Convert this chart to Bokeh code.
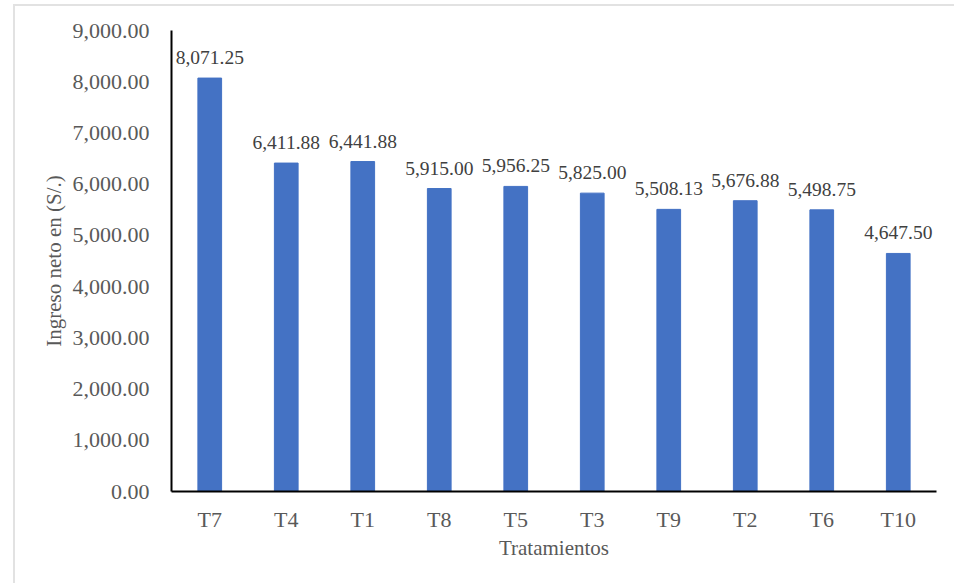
from bokeh.plotting import figure
from bokeh.models import ColumnDataSource, FactorRange, Range1d, NumeralTickFormatter, FixedTicker, LabelSet
from bokeh.embed import file_html
from bokeh.resources import INLINE

# Ingreso neto por tratamiento (S/.)
tratamientos = ["T7", "T4", "T1", "T8", "T5", "T3", "T9", "T2", "T6", "T10"]
ingreso_neto = [8071.25, 6411.88, 6441.88, 5915.00, 5956.25, 5825.00, 5508.13, 5676.88, 5498.75, 4647.50]
y_ticks = [0, 1000, 2000, 3000, 4000, 5000, 6000, 7000, 8000, 9000]

etiquetas = [f"{v:,.2f}" for v in ingreso_neto]
source = ColumnDataSource(dict(t=tratamientos, v=ingreso_neto, lab=etiquetas))

FONT = "'Liberation Serif', 'Times New Roman', serif"
GRAY = "#595959"

p = figure(
    x_range=FactorRange(*tratamientos, range_padding=0),
    y_range=Range1d(0, 9000),
    width=941, height=579,
    output_backend="svg", toolbar_location=None,
    min_border_left=156, min_border_right=20, min_border_top=24, min_border_bottom=94,
)
p.styles = {
    "margin-left": "13px", "margin-top": "4px",
    "border-left": "2px solid #e2e2e2", "border-top": "2px solid #e2e2e2",
}

p.vbar(x="t", top="v", width=0.31, source=source, fill_color="#4472C4", line_color="#4472C4")

labels = LabelSet(x="t", y="v", text="lab", source=source, text_align="center",
                  text_baseline="bottom", y_offset=14, text_font=FONT,
                  text_font_size="19.5px", text_color="#404040")
p.add_layout(labels)

p.outline_line_color = None
p.xgrid.visible = False
p.ygrid.visible = False

p.yaxis.ticker = FixedTicker(ticks=y_ticks)
p.yaxis.formatter = NumeralTickFormatter(format="0,0.00")
p.yaxis.axis_label = "Ingreso neto en (S/.)"
p.xaxis.axis_label = "Tratamientos"

for ax in (p.xaxis, p.yaxis):
    ax.axis_line_color = "black"
    ax.axis_line_width = 2
    ax.major_tick_line_color = None
    ax.minor_tick_line_color = None
    ax.major_label_text_font = FONT
    ax.major_label_text_font_size = "22px"
    ax.major_label_text_color = GRAY
    ax.axis_label_text_font = FONT
    ax.axis_label_text_font_size = "21px"
    ax.axis_label_text_font_style = "normal"
    ax.axis_label_text_color = GRAY

p.yaxis.major_label_standoff = 16
p.xaxis.major_label_standoff = 9
p.yaxis.axis_label_standoff = 4
p.xaxis.axis_label_standoff = 1

open("out.html", "w").write(file_html(p, INLINE))
